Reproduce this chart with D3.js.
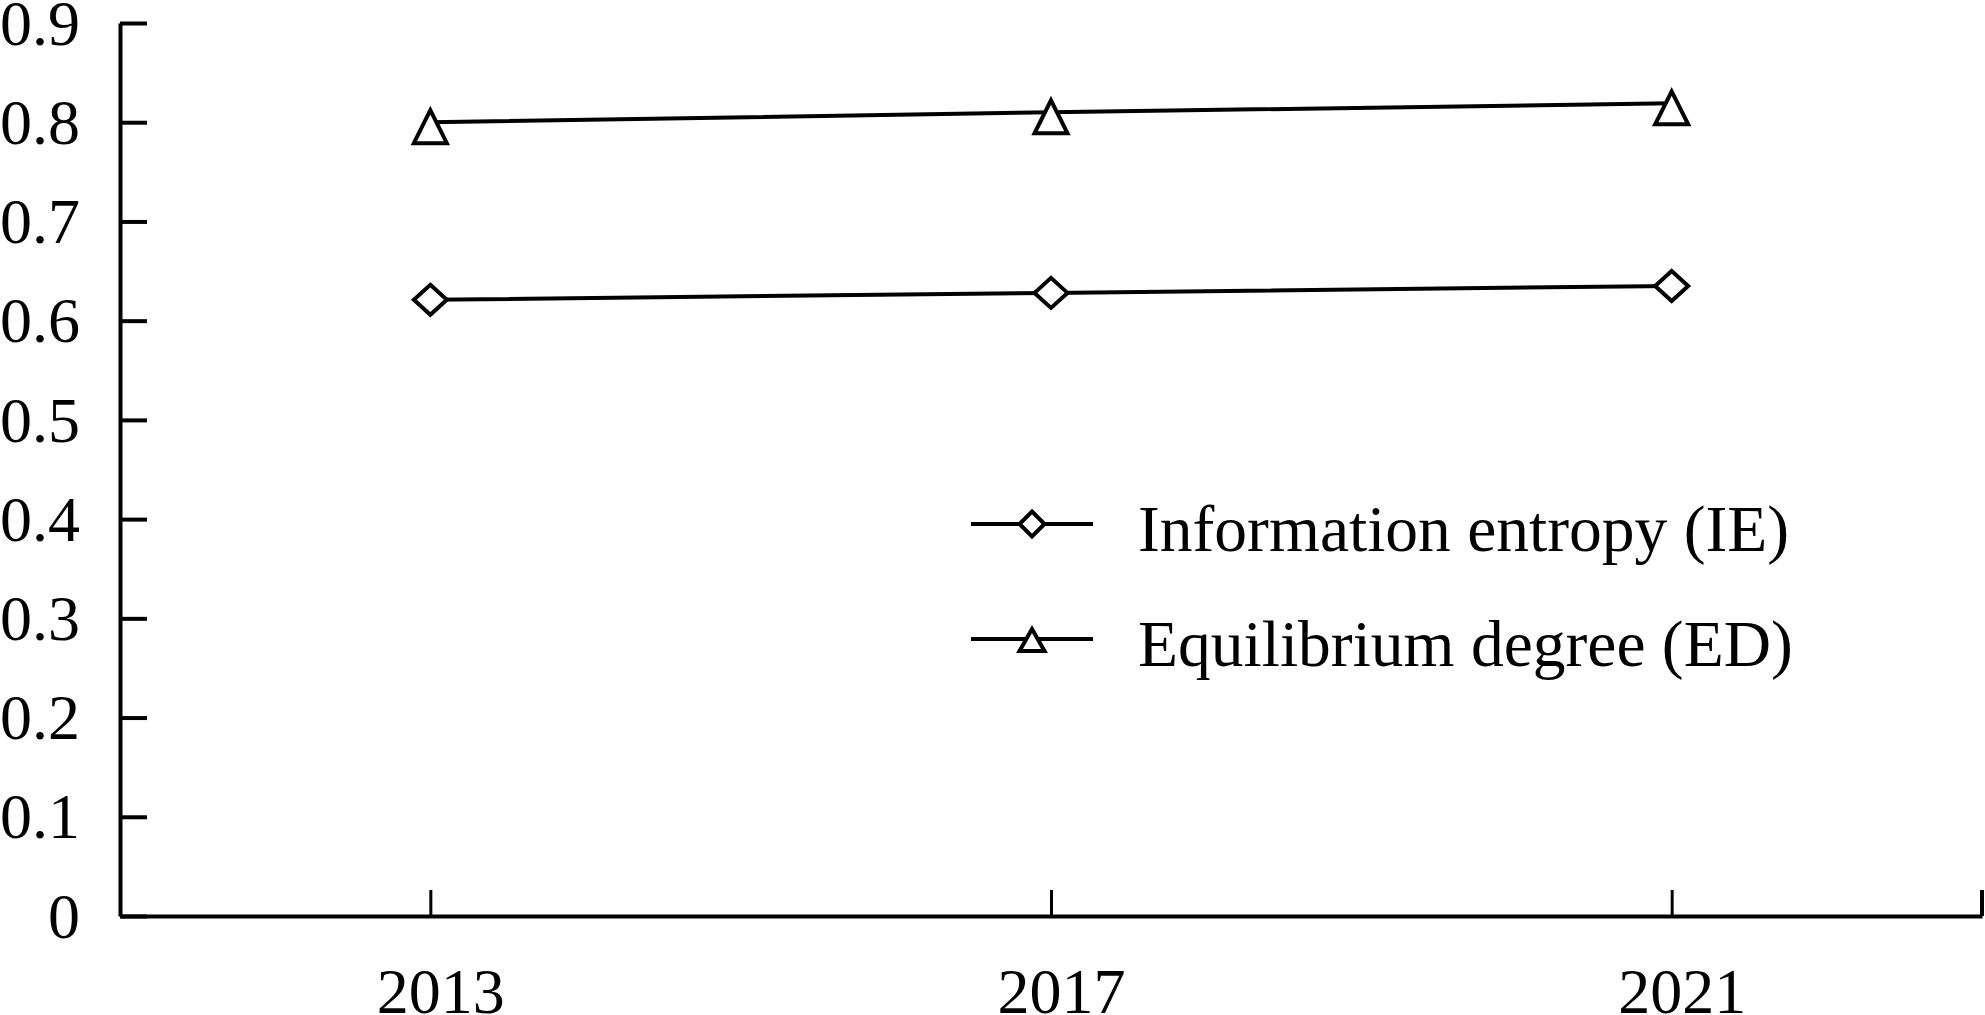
<!DOCTYPE html>
<html>
<head>
<meta charset="utf-8">
<script src="https://cdn.jsdelivr.net/npm/d3@7/dist/d3.min.js"></script>
<style>
  html, body { margin: 0; padding: 0; background: #fff; }
  svg { display: block; }
  text { font-family: "Liberation Serif", "Times New Roman", serif; fill: #000; }
</style>
</head>
<body>
<svg id="chart" width="1985" height="1015"></svg>
<script>
// ---- data ----
const years = ["2013", "2017", "2021"];
const ieValues = [0.621, 0.628, 0.635];
const edValues = [0.800, 0.810, 0.819];
const seriesNames = ["Information entropy (IE)", "Equilibrium degree (ED)"];
const yTickValues = [0, 0.1, 0.2, 0.3, 0.4, 0.5, 0.6, 0.7, 0.8, 0.9];
const yTickLabels = ["0", "0.1", "0.2", "0.3", "0.4", "0.5", "0.6", "0.7", "0.8", "0.9"];

(function () {
// ---- layout ----
const mLeft = 120, mRight = 1982, mTop = 23, mBottom = 916;
const svg = d3.select("#chart");

const x = d3.scalePoint().domain(years).range([mLeft, mRight]).padding(0.5);
const y = d3.scaleLinear().domain([0, 0.9]).range([mBottom, mTop]);

const FONT = 64;
const LEGEND_FONT = 65.5;

// y axis
const yAxis = d3.axisLeft(y)
  .tickValues(yTickValues)
  .tickFormat((d, i) => yTickLabels[i])
  .tickSizeInner(-27)
  .tickSizeOuter(0)
  .tickPadding(40);
const gy = svg.append("g").attr("transform", `translate(${mLeft},0)`).call(yAxis);
gy.select(".domain").attr("stroke", "#000").attr("stroke-width", 4);
gy.selectAll(".tick line").attr("stroke", "#000").attr("stroke-width", 4);
gy.selectAll(".tick text").attr("font-size", FONT).attr("font-family", "Liberation Serif").attr("dy", "0.33em");

// x axis
const xAxis = d3.axisBottom(x)
  .tickSizeInner(-26)
  .tickSizeOuter(0)
  .tickPadding(52);
const gx = svg.append("g").attr("transform", `translate(0,${mBottom})`).call(xAxis);
gx.select(".domain").attr("stroke", "#000").attr("stroke-width", 4);
gx.selectAll(".tick line").attr("stroke", "#000").attr("stroke-width", 3);
gx.selectAll(".tick text").attr("font-size", FONT).attr("font-family", "Liberation Serif").attr("dx", 10);
// end tick at the right edge of the category axis
gx.append("line")
  .attr("x1", x.range()[1]).attr("x2", x.range()[1])
  .attr("y1", 0).attr("y2", -26)
  .attr("stroke", "#000").attr("stroke-width", 4);

// ---- series ----
const diamondPath = "M0,-15L16.5,0L0,15L-16.5,0Z";
const trianglePath = "M0,-12L16.5,21L-16.5,21Z";
const diamondSmall = "M0,-12.5L12.5,0L0,12.5L-12.5,0Z";
const triangleSmall = "M0,-10L12.5,12L-12.5,12Z";

const series = [
  { name: seriesNames[0], values: ieValues, marker: diamondPath, legendMarker: diamondSmall },
  { name: seriesNames[1], values: edValues, marker: trianglePath, legendMarker: triangleSmall }
];

const line = d3.line().x((d, i) => x(years[i])).y(d => y(d));

series.forEach(s => {
  svg.append("path")
    .attr("d", line(s.values))
    .attr("fill", "none")
    .attr("stroke", "#000")
    .attr("stroke-width", 4);
  svg.append("g").selectAll("path")
    .data(s.values)
    .join("path")
    .attr("transform", (d, i) => `translate(${x(years[i])},${y(d)})`)
    .attr("d", s.marker)
    .attr("fill", "#fff")
    .attr("stroke", "#000")
    .attr("stroke-width", 4)
    .attr("stroke-linejoin", "miter");
});

// ---- legend ----
const legend = svg.append("g").attr("transform", "translate(971,524)");
const legendRowGap = 115;
series.forEach((s, i) => {
  const g = legend.append("g").attr("transform", `translate(0,${i * legendRowGap})`);
  g.append("line").attr("x1", 0).attr("x2", 122).attr("y1", 0).attr("y2", 0)
    .attr("stroke", "#000").attr("stroke-width", 4);
  g.append("path").attr("transform", "translate(61,0)").attr("d", s.legendMarker)
    .attr("fill", "#fff").attr("stroke", "#000").attr("stroke-width", 4);
  g.append("text").attr("x", 167).attr("y", 27)
    .attr("font-size", LEGEND_FONT)
    .text(s.name);
});
})();
</script>
</body>
</html>
